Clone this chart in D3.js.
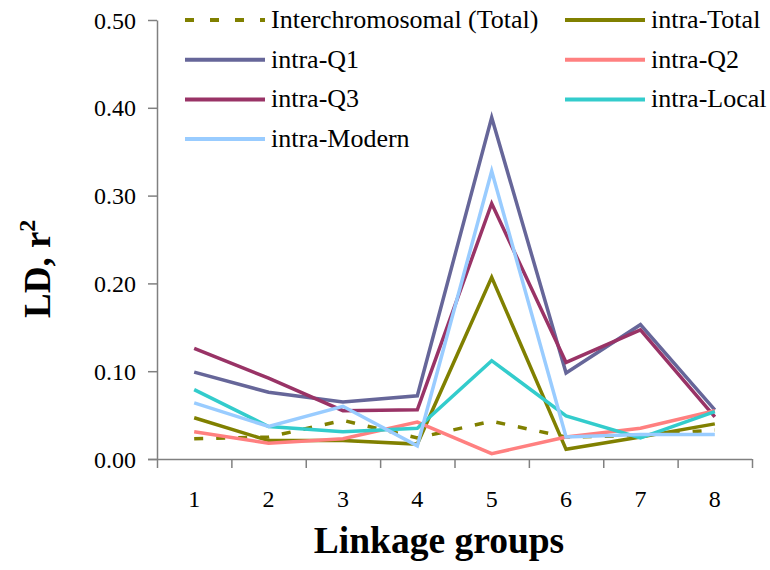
<!DOCTYPE html>
<html>
<head>
<meta charset="utf-8">
<script src="https://cdn.jsdelivr.net/npm/d3@7"></script>
<style>
  body { margin: 0; background: #fff; }
  svg text { font-family: "Liberation Serif", "Times New Roman", serif; }
</style>
</head>
<body>
<div id="chart"></div>
<script>
// linkage groups on the x axis
var groups = ["1", "2", "3", "4", "5", "6", "7", "8"];
var yTicks = [0, 0.1, 0.2, 0.3, 0.4, 0.5];

// LD values (r^2)
var interTotal  = [0.023, 0.025, 0.044, 0.024, 0.043, 0.025, 0.027, 0.033];
var intraTotal  = [0.047, 0.021, 0.021, 0.017, 0.207, 0.011, 0.025, 0.040];
var intraQ1     = [0.099, 0.076, 0.065, 0.072, 0.389, 0.098, 0.153, 0.056];
var intraQ2     = [0.031, 0.018, 0.023, 0.042, 0.006, 0.025, 0.035, 0.055];
var intraQ3     = [0.126, 0.092, 0.055, 0.056, 0.291, 0.110, 0.147, 0.048];
var intraLocal  = [0.079, 0.037, 0.031, 0.035, 0.112, 0.049, 0.024, 0.054];
var intraModern = [0.064, 0.037, 0.060, 0.015, 0.328, 0.025, 0.028, 0.028];

var series = [
  {name: "Interchromosomal (Total)", values: interTotal, color: "#808000", dash: "9,13"},
  {name: "intra-Total", values: intraTotal, color: "#808000"},
  {name: "intra-Q1", values: intraQ1, color: "#666699"},
  {name: "intra-Q2", values: intraQ2, color: "#FF8080"},
  {name: "intra-Q3", values: intraQ3, color: "#993366"},
  {name: "intra-Local", values: intraLocal, color: "#33CCCC"},
  {name: "intra-Modern", values: intraModern, color: "#99CCFF"}
];

var width = 770, height = 570;
var margin = {left: 157, right: 752, top: 20, bottom: 459};
var serif = "'Liberation Serif', 'Times New Roman', serif";

var svg = d3.select("#chart").append("svg")
  .attr("width", width)
  .attr("height", height)
  .attr("font-family", serif);

var x = d3.scaleBand().domain(groups).range([margin.left, margin.right]);
var y = d3.scaleLinear().domain([0, 0.5]).range([margin.bottom, margin.top]);

// y axis
var yAxis = svg.append("g")
  .attr("transform", "translate(" + margin.left + ",0)")
  .call(d3.axisLeft(y).tickValues(yTicks).tickFormat(d3.format(".2f")).tickSize(9).tickSizeOuter(0));
yAxis.attr("font-family", serif);
yAxis.selectAll("text").attr("font-size", 24).attr("fill", "#000").attr("x", -21).attr("dy", "0.34em");

// x axis, ticks between the groups
var xAxis = svg.append("g")
  .attr("transform", "translate(0," + margin.bottom + ")")
  .call(d3.axisBottom(x).tickSize(0).tickSizeOuter(0));
xAxis.attr("font-family", serif);
xAxis.selectAll("text").attr("font-size", 24).attr("fill", "#000").attr("y", 0).attr("dy", 48);
xAxis.select(".domain").attr("d", "M" + (margin.left - 9) + ",0.5H" + margin.right);
xAxis.selectAll(".sep")
  .data(groups.concat(["end"]))
  .enter().append("line")
    .attr("class", "sep")
    .attr("x1", function(d, i) { return margin.left + i * x.bandwidth() + 0.5; })
    .attr("x2", function(d, i) { return margin.left + i * x.bandwidth() + 0.5; })
    .attr("y1", 0)
    .attr("y2", 9);

svg.selectAll(".domain").attr("stroke", "#808080").attr("stroke-width", 1.5);
svg.selectAll(".tick line, .sep").attr("stroke", "#808080").attr("stroke-width", 1.5);

// lines
var line = d3.line()
  .x(function(d, i) { return x(groups[i]) + x.bandwidth() / 2; })
  .y(function(d) { return y(d); });

var drawOrder = [0, 2, 4, 1, 3, 5, 6];
drawOrder.forEach(function(k) {
  var s = series[k];
  svg.append("path")
    .attr("d", line(s.values))
    .attr("fill", "none")
    .attr("stroke", s.color)
    .attr("stroke-width", 3.5)
    .attr("stroke-dasharray", s.dash || null);
});

// legend in two columns
var legend = svg.append("g");
series.forEach(function(s, i) {
  var col = i % 2, row = Math.floor(i / 2);
  var lx = col === 0 ? 185 : 565;
  var ly = 20 + row * 39.7;
  legend.append("line")
    .attr("x1", lx).attr("x2", lx + 80)
    .attr("y1", ly).attr("y2", ly)
    .attr("stroke", s.color)
    .attr("stroke-width", 4)
    .attr("stroke-dasharray", s.dash ? "9,16" : null);
  legend.append("text")
    .attr("x", lx + 86)
    .attr("y", ly + 8)
    .attr("font-size", 26)
    .text(s.name);
});

// axis titles
svg.append("text")
  .attr("transform", "translate(50,318) rotate(-90)")
  .attr("font-size", 37)
  .attr("font-weight", "bold")
  .html('LD, r<tspan dy="-15" font-size="24">2</tspan>');

svg.append("text")
  .attr("x", 439)
  .attr("y", 553)
  .attr("text-anchor", "middle")
  .attr("font-size", 37.5)
  .attr("font-weight", "bold")
  .text("Linkage groups");
</script>
</body>
</html>
